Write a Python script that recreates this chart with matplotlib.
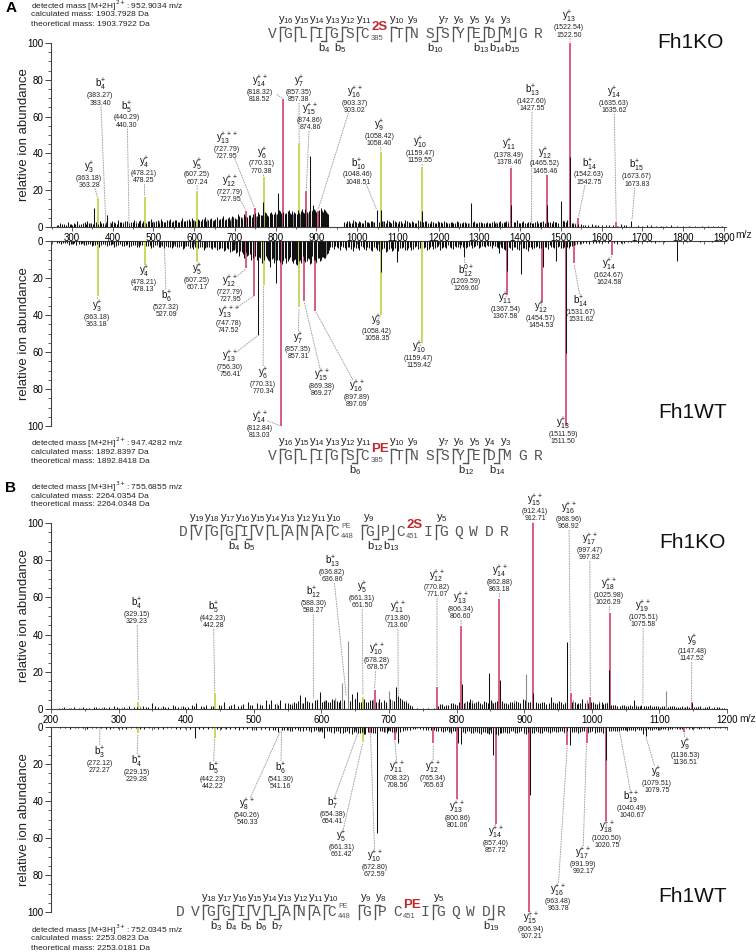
import matplotlib.pyplot as plt
from matplotlib.lines import Line2D
from matplotlib.ticker import MultipleLocator

plt.rcParams['font.family'] = ['Liberation Sans', 'DejaVu Sans']

# ---------------- data ----------------
# annotated fragment peaks: (ion, number, charge, calculated, observed, peak m/z, height, kind)
# kind: 'g' unmodified fragment, 'r' fragment carrying the modified Cys, '' only a label
ko_a_ions = [
    ('y', '3', '+', '363.18', '363.28', 363.28, 15.6, 'g'),
    ('b', '4', '+', '383.27', '383.40', 383.40, 0.0, ''),
    ('b', '5', '+', '440.29', '440.30', 440.30, 0.0, ''),
    ('y', '4', '+', '478.21', '478.25', 478.25, 16.5, 'g'),
    ('y', '5', '+', '607.25', '607.24', 607.24, 19.7, 'g'),
    ('y', '13', '+++', '727.79', '727.95', 748.00, 10.3, 'r'),
    ('y', '12', '++', '727.79', '727.95', 727.95, 8.7, 'r'),
    ('y', '6', '+', '770.31', '770.38', 770.38, 27.0, 'g'),
    ('y', '14', '++', '818.32', '818.52', 818.52, 69.5, 'r'),
    ('y', '7', '+', '857.35', '857.38', 857.38, 45.6, 'g'),
    ('y', '15', '++', '874.86', '874.86', 874.86, 19.5, 'r'),
    ('y', '16', '++', '903.37', '903.02', 903.02, 8.7, 'r'),
    ('b', '10', '+', '1048.46', '1048.51', 1048.51, 9.0, ''),
    ('y', '9', '+', '1058.42', '1058.40', 1058.40, 40.8, 'g'),
    ('y', '10', '+', '1159.47', '1159.55', 1159.55, 32.6, 'g'),
    ('y', '11', '+', '1378.49', '1378.46', 1378.46, 32.0, 'r'),
    ('b', '13', '+', '1427.60', '1427.55', 1427.55, 0.0, ''),
    ('y', '12', '+', '1465.52', '1465.46', 1465.46, 28.3, 'r'),
    ('y', '13', '+', '1522.54', '1522.50', 1522.50, 100.0, 'r'),
    ('b', '14', '+', '1542.63', '1542.75', 1542.75, 4.9, 'r'),
    ('y', '14', '+', '1635.63', '1635.62', 1635.62, 2.5, 'r'),
    ('b', '15', '+', '1673.67', '1673.83', 1673.83, 3.0, ''),
]
wt_a_ions = [
    ('y', '3', '+', '363.18', '363.18', 363.18, 29.7, 'g'),
    ('y', '4', '+', '478.21', '478.13', 478.13, 13.0, 'g'),
    ('b', '6', '+', '527.32', '527.09', 527.09, 4.0, ''),
    ('y', '5', '+', '607.25', '607.17', 607.17, 11.4, 'g'),
    ('y', '12', '++', '727.79', '727.95', 727.95, 14.8, 'r'),
    ('y', '13', '+++', '747.78', '747.52', 747.52, 29.5, 'r'),
    ('y', '13', '++', '756.30', '756.41', 756.41, 51.0, ''),
    ('y', '6', '+', '770.31', '770.34', 770.34, 23.8, 'g'),
    ('y', '14', '++', '812.84', '813.03', 813.03, 100.0, 'r'),
    ('y', '7', '+', '857.35', '857.31', 857.31, 35.7, 'g'),
    ('y', '15', '++', '869.38', '869.27', 869.27, 32.3, 'r'),
    ('y', '16', '++', '897.89', '897.09', 897.09, 37.8, 'r'),
    ('y', '9', '+', '1058.42', '1058.35', 1058.35, 40.0, 'g'),
    ('y', '10', '+', '1159.47', '1159.42', 1159.42, 55.0, 'g'),
    ('b', '12', '0+', '1269.59', '1269.60', 1262.00, 8.5, ''),
    ('y', '11', '+', '1367.54', '1367.58', 1367.58, 29.0, 'r'),
    ('y', '12', '+', '1454.57', '1454.53', 1454.53, 33.0, 'r'),
    ('b', '14', '+', '1531.67', '1531.62', 1531.62, 11.7, 'r'),
    ('y', '14', '+', '1624.67', '1624.58', 1624.58, 7.6, 'r'),
    ('y', '13', '+', '1511.59', '1511.50', 1511.50, 100.0, 'r'),
]
ko_b_ions = [
    ('b', '4', '+', '329.15', '329.23', 329.23, 3.9, 'g'),
    ('b', '5', '+', '442.23', '442.28', 442.28, 8.6, 'g'),
    ('b', '12', '+', '588.30', '588.27', 588.27, 5.0, ''),
    ('b', '13', '+', '636.82', '636.86', 636.86, 6.5, ''),
    ('y', '5', '+', '661.31', '661.50', 661.50, 6.5, 'g'),
    ('y', '10', '++', '678.28', '678.57', 678.57, 10.2, 'r'),
    ('y', '11', '++', '713.80', '713.60', 713.60, 6.5, ''),
    ('y', '12', '++', '770.82', '771.07', 771.07, 11.8, 'r'),
    ('y', '13', '++', '806.34', '806.60', 806.60, 44.6, 'r'),
    ('y', '14', '++', '862.88', '863.18', 863.18, 59.0, 'r'),
    ('y', '15', '++', '912.41', '912.71', 912.71, 100.0, 'r'),
    ('y', '16', '++', '968.96', '968.92', 968.92, 8.6, 'r'),
    ('y', '17', '++', '997.47', '997.82', 997.82, 6.5, 'r'),
    ('y', '18', '++', '1025.98', '1026.29', 1026.29, 51.6, 'r'),
    ('y', '19', '++', '1075.51', '1075.58', 1075.58, 2.0, ''),
    ('y', '9', '+', '1147.48', '1147.52', 1147.52, 3.8, 'r'),
]
wt_b_ions = [
    ('b', '3', '+', '272.12', '272.27', 272.27, 0.0, ''),
    ('b', '4', '+', '229.15', '229.28', 328.70, 3.2, 'g'),
    ('b', '5', '+', '442.23', '442.22', 442.22, 6.0, 'g'),
    ('b', '6', '+', '541.30', '541.16', 541.16, 0.8, ''),
    ('y', '8', '++', '540.26', '540.33', 540.33, 1.5, ''),
    ('b', '7', '+', '654.38', '654.41', 654.41, 2.8, ''),
    ('y', '5', '+', '661.31', '661.42', 661.42, 8.0, 'g'),
    ('y', '10', '++', '672.80', '672.59', 672.59, 3.0, 'r'),
    ('y', '11', '++', '708.32', '708.56', 708.56, 7.0, 'r'),
    ('y', '12', '++', '765.34', '765.63', 765.63, 8.8, 'r'),
    ('y', '13', '++', '800.86', '801.06', 801.06, 39.0, 'r'),
    ('y', '14', '++', '857.40', '857.72', 857.72, 52.5, 'r'),
    ('y', '15', '++', '906.94', '907.21', 907.21, 100.0, 'r'),
    ('y', '16', '++', '963.48', '963.78', 963.78, 9.7, 'r'),
    ('y', '17', '++', '991.99', '992.17', 992.17, 8.5, 'r'),
    ('y', '18', '++', '1020.50', '1020.75', 1020.75, 50.6, 'r'),
    ('b', '19', '++', '1040.49', '1040.67', 1040.67, 1.5, ''),
    ('y', '8', '+', '1079.51', '1079.75', 1079.75, 5.0, ''),
    ('y', '9', '+', '1136.53', '1136.51', 1136.51, 2.5, 'r'),
]

# unassigned peaks (m/z, relative abundance), black and grey
ko_a_black = [
    (262, 1.2), (270, 2.0), (281, 1.5), (290, 2.8), (298, 1.8), (305, 2.2), (312, 3.0), (322, 1.6), (331, 2.5), (338, 3.2),
    (347, 2.0), (355, 10.3), (368, 3.5), (376, 2.4), (387, 6.5), (399, 3.0), (405, 2.2), (414, 3.8), (421, 2.6), (430, 3.3),
    (446, 2.8), (452, 3.6), (461, 2.4), (467, 3.9), (486, 3.0), (493, 4.2), (502, 2.7), (510, 3.6), (518, 4.4), (526, 2.9),
    (533, 3.8), (541, 4.6), (549, 3.1), (556, 4.0), (563, 2.8), (571, 4.8), (578, 3.4), (586, 4.1), (594, 5.0), (612, 3.6),
    (619, 4.4), (627, 5.6), (634, 3.7), (641, 4.9), (649, 3.9), (656, 5.2), (664, 4.3), (671, 6.0), (679, 4.6), (686, 5.4),
    (693, 6.2), (700, 5.0), (707, 6.8), (714, 5.5), (721, 7.2), (738, 6.4), (744, 7.0), (757, 8.0), (763, 6.6), (769, 13.6),
    (776, 7.5), (782, 6.2), (789, 8.4), (795, 7.0), (806, 18.5), (811, 8.8), (826, 7.6), (832, 9.2), (838, 7.0), (845, 8.4),
    (851, 6.8), (864, 9.6), (869, 7.4), (881, 8.8), (885, 38.6), (891, 12.0), (897, 9.0), (910, 10.4), (916, 8.2), (921, 9.4),
    (927, 7.6), (968, 2.8), (975, 3.5), (983, 2.2), (990, 3.8), (997, 2.6), (1004, 3.2), (1011, 2.4), (1019, 3.6), (1026, 2.8),
    (1034, 3.4), (1041, 2.6), (1048, 9.0), (1058, 9.5), (1066, 3.0), (1073, 3.6), (1080, 2.8), (1088, 4.0), (1096, 2.6), (1103, 3.4),
    (1111, 2.4), (1118, 3.8), (1126, 2.6), (1134, 3.2), (1141, 2.4), (1149, 3.6), (1159, 8.7), (1166, 3.0), (1174, 2.4), (1182, 3.4),
    (1190, 2.2), (1197, 3.0), (1205, 2.6), (1213, 3.4), (1221, 2.0), (1229, 2.8), (1236, 2.4), (1244, 3.2), (1252, 2.0), (1260, 2.8),
    (1268, 2.2), (1279, 13.0), (1287, 3.0), (1295, 2.2), (1303, 2.8), (1311, 2.0), (1319, 2.6), (1327, 2.2), (1335, 3.0), (1343, 2.4),
    (1351, 3.2), (1359, 2.6), (1366, 3.4), (1378, 11.8), (1384, 2.8), (1392, 3.6), (1400, 2.4), (1408, 3.0), (1416, 2.2), (1424, 2.8),
    (1432, 2.4), (1440, 3.2), (1448, 2.6), (1456, 3.4), (1465, 12.0), (1473, 2.8), (1481, 3.4), (1489, 2.6), (1500, 14.0), (1508, 3.0),
    (1515, 4.0), (1522, 38.0), (1530, 2.4), (1548, 1.8), (1560, 1.2), (1575, 1.4), (1592, 1.0), (1610, 1.2), (1628, 1.0), (1648, 1.5),
    (1660, 1.3), (1673, 3.0), (1700, 0.8), (1720, 1.0), (1745, 0.8), (1770, 0.9), (1800, 0.7), (1830, 0.8), (1860, 0.6), (1885, 0.7),
    (266, 1.0), (275, 1.4), (286, 0.9), (294, 1.6), (301, 1.1), (308, 1.8), (317, 1.2), (326, 2.0), (334, 1.4), (342, 2.4),
    (351, 1.6), (360, 2.6), (364, 1.8), (372, 2.2), (380, 1.6), (383, 2.6), (395, 2.0), (402, 2.6), (410, 1.8), (418, 2.8),
    (426, 2.0), (434, 3.0), (441, 2.2), (449, 2.8), (456, 2.0), (464, 3.0), (471, 2.4), (475, 3.2), (482, 2.2), (489, 3.4),
    (497, 2.6), (506, 3.0), (514, 2.4), (522, 3.4), (529, 2.6), (537, 3.2), (545, 2.8), (552, 3.6), (560, 2.6), (567, 3.4),
    (575, 3.0), (582, 4.0), (590, 3.2), (598, 3.8), (603, 3.0), (609, 4.2), (616, 3.0), (623, 4.6), (630, 3.4), (638, 4.2),
    (645, 3.2), (652, 4.4), (660, 3.6), (668, 4.8), (675, 3.8), (683, 5.0), (689, 4.0), (696, 5.2), (703, 4.4), (711, 5.8),
    (717, 4.6), (725, 6.0), (729, 5.2), (735, 6.6), (741, 5.6), (748, 7.4), (753, 6.2), (760, 7.0), (766, 6.4), (773, 8.0),
    (779, 6.6), (785, 7.6), (792, 6.8), (799, 8.2), (803, 7.0), (809, 9.0), (814, 7.4), (819, 8.4), (823, 7.0), (829, 8.6),
    (835, 7.4), (841, 8.8), (848, 7.6), (854, 9.4), (858, 7.8), (861, 8.6), (867, 8.0), (872, 9.8), (877, 8.2), (883, 9.2),
    (888, 8.6), (894, 10.0), (900, 8.4), (905, 9.4), (913, 8.8), (918, 9.8), (924, 8.0), (929, 6.8), (972, 2.2), (979, 3.0),
    (987, 2.4), (994, 3.0), (1001, 2.2), (1008, 2.8), (1015, 2.0), (1023, 2.6), (1030, 2.2), (1037, 3.0), (1053, 2.6), (1062, 3.2),
    (1070, 2.4), (1077, 3.0), (1084, 2.2), (1092, 3.0), (1099, 2.4), (1107, 3.2), (1114, 2.2), (1122, 3.0), (1130, 2.4), (1138, 2.8),
    (1145, 2.0), (1153, 3.0), (1162, 2.6), (1170, 3.0), (1178, 2.2), (1186, 2.8), (1194, 2.0), (1201, 2.6), (1209, 2.2), (1217, 2.8),
    (1225, 2.0), (1233, 2.6), (1240, 2.0), (1248, 2.6), (1256, 2.2), (1264, 2.8), (1272, 2.0), (1283, 2.6), (1291, 2.2), (1299, 2.6),
    (1307, 2.0), (1315, 2.4), (1323, 2.0), (1331, 2.6), (1339, 2.2), (1347, 2.8), (1355, 2.2), (1363, 2.8), (1370, 2.4), (1388, 2.6),
    (1396, 2.2), (1404, 2.8), (1412, 2.0), (1420, 2.6), (1428, 2.2), (1436, 2.8), (1444, 2.2), (1452, 2.6), (1460, 2.4), (1469, 2.6),
    (1477, 2.2), (1485, 2.8), (1493, 2.4), (1504, 3.0), (1512, 2.6), (1526, 2.4), (1535, 1.8), (1542, 1.6), (1553, 1.2), (1567, 1.0),
    (1583, 1.2), (1600, 0.9), (1619, 1.1), (1638, 0.8), (1655, 1.0), (1690, 0.7), (1710, 0.9), (1732, 0.7), (1758, 0.8), (1785, 0.6),
    (1815, 0.7), (1845, 0.6), (1872, 0.5), (1895, 0.6),
]
ko_a_grey = [
    (316, 1.8), (343, 2.2), (394, 2.5), (425, 2.8), (457, 3.0), (480, 2.6), (498, 3.4), (514, 3.0), (538, 3.6), (552, 3.2),
    (567, 3.8), (582, 3.3), (600, 4.0), (616, 3.5), (631, 4.2), (645, 3.8), (661, 4.5), (675, 4.0), (690, 4.8), (704, 4.4),
    (718, 5.5), (730, 5.0), (751, 6.0), (772, 6.4), (786, 6.0), (800, 7.2), (816, 6.5), (822, 7.8), (842, 7.0), (856, 8.0),
    (860, 7.2), (873, 9.0), (878, 7.8), (888, 9.5), (903, 8.0), (913, 9.2), (924, 8.8), (979, 2.8), (1008, 2.5), (1038, 2.8),
    (1063, 3.0), (1092, 2.6), (1122, 3.0), (1156, 2.6), (1186, 2.8), (1217, 2.4), (1248, 2.6), (1275, 2.4), (1305, 2.2), (1340, 2.6),
    (1370, 3.0), (1396, 2.4), (1420, 2.6), (1452, 2.8), (1485, 2.6), (1505, 4.0), (1535, 2.0), (1585, 1.0), (1640, 0.8), (1690, 1.0),
    (1750, 0.7),
]
wt_a_black = [
    (262, 1.0), (272, 1.6), (283, 1.2), (293, 2.0), (302, 1.4), (311, 2.4), (321, 1.6), (330, 2.2), (339, 1.8), (348, 2.8),
    (357, 2.0), (367, 3.0), (375, 1.8), (386, 2.6), (395, 2.0), (404, 3.2), (413, 2.2), (422, 2.8), (432, 2.0), (441, 3.0),
    (450, 2.4), (459, 3.4), (468, 2.2), (487, 2.6), (495, 3.6), (504, 2.4), (513, 3.2), (522, 2.6), (527, 4.0), (536, 3.0),
    (545, 3.8), (554, 2.6), (563, 3.4), (572, 4.2), (581, 2.8), (590, 3.6), (598, 4.4), (615, 3.2), (623, 4.8), (632, 3.4),
    (640, 4.0), (648, 3.0), (656, 4.6), (664, 3.6), (672, 5.2), (680, 4.0), (688, 5.8), (695, 4.6), (702, 6.4), (710, 8.0),
    (717, 6.0), (722, 9.0), (733, 7.5), (740, 10.5), (756, 51.0), (762, 9.0), (766, 12.0), (775, 8.0), (781, 10.5), (787, 14.0),
    (793, 9.0), (801, 22.5), (807, 10.0), (815, 12.5), (822, 9.0), (830, 11.0), (836, 8.5), (842, 12.0), (848, 9.5), (853, 13.0),
    (860, 10.0), (866, 8.0), (873, 11.5), (879, 9.0), (884, 12.5), (890, 8.0), (896, 10.0), (903, 9.0), (908, 11.0), (914, 8.6),
    (919, 9.4), (925, 7.2), (930, 5.0), (938, 3.4), (946, 2.6), (953, 3.8), (961, 2.8), (969, 4.0), (977, 3.0), (985, 4.4),
    (993, 3.2), (1001, 3.8), (1009, 2.8), (1017, 4.2), (1025, 3.0), (1033, 4.6), (1041, 3.4), (1049, 5.0), (1058, 16.8), (1066, 4.0),
    (1074, 5.2), (1082, 3.6), (1089, 4.8), (1097, 11.3), (1105, 4.0), (1113, 3.2), (1121, 4.6), (1129, 3.0), (1137, 4.2), (1145, 2.8),
    (1153, 3.6), (1167, 3.0), (1175, 4.4), (1183, 2.6), (1191, 3.8), (1199, 2.8), (1207, 4.0), (1215, 3.0), (1223, 2.4), (1231, 3.6),
    (1239, 2.6), (1247, 3.2), (1255, 2.2), (1262, 8.5), (1270, 3.0), (1278, 2.4), (1286, 3.4), (1294, 2.2), (1302, 3.0), (1310, 2.6),
    (1318, 2.0), (1326, 2.8), (1334, 2.2), (1342, 3.4), (1348, 6.7), (1356, 3.8), (1362, 5.0), (1368, 16.0), (1376, 4.0), (1384, 3.0),
    (1392, 4.4), (1402, 17.8), (1410, 3.6), (1418, 5.2), (1426, 3.0), (1434, 4.0), (1442, 2.6), (1450, 3.6), (1456, 14.0), (1464, 3.0),
    (1472, 2.4), (1480, 3.2), (1489, 10.7), (1496, 2.8), (1504, 3.6), (1512, 60.6), (1519, 4.0), (1527, 2.6), (1540, 1.6), (1555, 1.2),
    (1570, 1.4), (1585, 1.0), (1600, 1.3), (1615, 0.9), (1638, 1.6), (1655, 1.0), (1672, 0.8), (1690, 1.2), (1710, 0.8), (1730, 1.0),
    (1752, 0.7), (1785, 10.8), (1810, 0.8), (1840, 0.6), (1870, 0.7),
    (267, 1.0), (277, 1.3), (288, 0.9), (297, 1.5), (306, 1.0), (316, 1.8), (325, 1.2), (334, 2.0), (343, 1.4), (352, 2.2),
    (362, 1.6), (371, 2.4), (380, 1.5), (390, 2.2), (399, 1.6), (408, 2.6), (418, 1.8), (427, 2.6), (436, 1.8), (445, 2.8),
    (454, 2.0), (464, 3.0), (473, 2.2), (482, 2.8), (491, 2.4), (499, 3.0), (508, 2.2), (517, 3.0), (531, 2.6), (540, 3.4),
    (549, 2.6), (558, 3.2), (567, 2.8), (576, 3.6), (585, 2.6), (594, 3.4), (603, 3.0), (610, 3.8), (619, 3.0), (627, 4.0),
    (636, 3.2), (644, 4.4), (652, 3.4), (660, 4.2), (668, 3.8), (676, 4.6), (684, 4.2), (692, 5.2), (698, 4.8), (706, 6.0),
    (713, 5.6), (719, 7.0), (726, 6.2), (730, 8.0), (737, 7.0), (745, 9.0), (750, 8.0), (753, 10.0), (759, 8.6), (770, 9.4),
    (772, 10.5), (778, 9.0), (784, 11.0), (790, 9.6), (796, 12.0), (804, 10.0), (810, 11.5), (818, 10.0), (826, 12.0), (833, 9.5),
    (839, 11.0), (845, 10.0), (850, 12.5), (856, 11.0), (863, 12.0), (869, 10.0), (876, 11.0), (882, 9.5), (887, 12.0), (893, 10.0),
    (899, 11.5), (905, 9.0), (911, 10.5), (917, 8.5), (922, 9.0), (928, 6.5), (934, 3.0), (942, 4.2), (950, 3.0), (957, 4.6),
    (965, 3.2), (973, 4.8), (981, 3.4), (989, 5.2), (997, 3.6), (1005, 4.6), (1013, 3.4), (1021, 5.0), (1029, 3.6), (1037, 5.4),
    (1045, 3.8), (1053, 5.6), (1062, 4.2), (1070, 6.0), (1078, 4.4), (1086, 5.2), (1093, 4.0), (1101, 5.6), (1109, 3.8), (1117, 5.0),
    (1125, 3.6), (1133, 4.6), (1141, 3.4), (1149, 4.2), (1163, 3.6), (1171, 4.8), (1179, 3.4), (1187, 4.4), (1195, 3.2), (1203, 4.6),
    (1211, 3.4), (1219, 4.0), (1227, 3.0), (1235, 4.2), (1243, 3.0), (1251, 3.8), (1259, 3.0), (1266, 3.6), (1274, 2.8), (1282, 3.8),
    (1290, 2.8), (1298, 3.6), (1306, 2.6), (1314, 3.4), (1322, 2.6), (1330, 3.6), (1338, 2.8), (1345, 4.0), (1352, 3.2), (1359, 4.4),
    (1372, 3.4), (1380, 4.6), (1388, 3.2), (1396, 4.8), (1406, 3.6), (1414, 4.4), (1422, 3.2), (1430, 4.2), (1438, 3.0), (1446, 4.0),
    (1460, 3.4), (1468, 4.2), (1476, 3.0), (1484, 3.8), (1492, 3.0), (1500, 3.6), (1508, 3.0), (1516, 3.4), (1523, 2.8), (1533, 2.0),
    (1547, 1.4), (1562, 1.2), (1578, 1.0), (1593, 1.2), (1608, 0.8), (1630, 1.0), (1648, 0.9), (1665, 0.7), (1700, 0.8), (1720, 0.6),
]
wt_a_grey = [
    (299, 1.0), (326, 1.4), (352, 1.8), (380, 2.0), (409, 2.2), (436, 2.4), (463, 2.0), (491, 2.8), (518, 2.4), (549, 3.0),
    (577, 2.6), (604, 3.2), (628, 3.0), (652, 3.6), (676, 3.4), (699, 4.2), (713, 5.0), (726, 6.5), (748, 8.0), (770, 9.0),
    (797, 10.0), (819, 11.0), (840, 10.0), (857, 12.0), (870, 11.0), (887, 10.0), (899, 12.0), (912, 9.0), (923, 8.0), (957, 2.6),
    (989, 3.0), (1021, 2.8), (1054, 3.2), (1085, 3.0), (1117, 2.8), (1149, 3.0), (1179, 2.6), (1211, 2.8), (1243, 2.4), (1274, 2.6),
    (1306, 2.4), (1338, 2.8), (1372, 3.0), (1406, 2.6), (1438, 2.8), (1468, 2.6), (1500, 3.0), (1534, 2.0), (1578, 1.0), (1625, 0.8),
    (1680, 0.7), (1740, 0.8),
]
ko_b_black = [
    (212, 0.6), (219, 0.9), (226, 0.5), (234, 1.0), (241, 0.7), (248, 1.2), (256, 0.8), (263, 1.1), (271, 0.6), (278, 1.3),
    (286, 0.9), (293, 1.4), (301, 0.8), (308, 1.2), (315, 1.6), (323, 1.0), (336, 1.4), (343, 0.9), (350, 3.0), (358, 1.2),
    (365, 1.6), (373, 1.0), (380, 2.4), (388, 1.3), (395, 1.8), (402, 1.1), (408, 2.0), (415, 3.0), (422, 1.5), (430, 2.2),
    (436, 1.4), (448, 2.0), (456, 4.0), (463, 1.8), (470, 2.6), (477, 1.6), (484, 2.8), (491, 3.8), (498, 2.0), (505, 3.0),
    (512, 2.2), (518, 5.0), (525, 5.0), (532, 2.8), (539, 5.0), (546, 3.2), (553, 2.6), (560, 3.6), (566, 4.4), (569, 7.5),
    (576, 6.5), (582, 3.8), (590, 4.6), (598, 9.0), (604, 4.2), (610, 3.6), (616, 5.4), (623, 4.4), (628, 5.0), (646, 8.0),
    (653, 9.0), (658, 4.0), (666, 3.6), (672, 4.8), (688, 3.8), (692, 4.6), (711, 11.8), (716, 6.0), (722, 4.4), (728, 3.0),
    (734, 1.6), (742, 0.6), (750, 0.4), (758, 0.5), (766, 0.8), (775, 2.6), (781, 1.8), (788, 2.4), (795, 3.0), (801, 2.2),
    (808, 13.4), (815, 4.4), (820, 5.6), (826, 3.0), (832, 4.2), (838, 2.6), (843, 3.6), (848, 19.4), (854, 3.0), (860, 4.4),
    (864, 15.6), (870, 3.4), (876, 2.6), (882, 3.8), (888, 4.4), (894, 3.0), (898, 5.2), (906, 3.6), (913, 8.6), (920, 3.0),
    (926, 4.0), (932, 2.6), (940, 6.6), (946, 3.0), (952, 4.4), (957, 2.8), (963, 36.0), (975, 3.8), (980, 3.0), (985, 5.5),
    (990, 3.2), (1002, 3.6), (1008, 2.6), (1015, 4.0), (1020, 3.4), (1026, 21.0), (1032, 2.4), (1038, 1.8), (1044, 2.2), (1050, 1.6),
    (1056, 2.0), (1062, 5.0), (1068, 1.8), (1073, 2.4), (1080, 1.6), (1086, 2.0), (1092, 1.4), (1098, 1.8), (1104, 1.6), (1116, 1.4),
    (1122, 1.8), (1128, 1.2), (1134, 1.6), (1141, 1.4), (1148, 3.0), (1154, 1.2), (1160, 1.8), (1167, 1.0), (1174, 1.4), (1181, 0.9),
    (1188, 1.2), (1195, 0.8),
    (216, 0.4), (230, 0.7), (252, 0.6), (267, 0.9), (282, 0.7), (297, 1.0), (312, 0.8), (327, 1.2), (340, 0.9), (354, 1.4),
    (369, 1.0), (384, 1.6), (398, 1.2), (412, 1.6), (426, 1.2), (440, 1.8), (452, 1.4), (467, 2.2), (481, 1.8), (495, 2.4),
    (509, 2.0), (522, 2.6), (536, 2.2), (550, 3.0), (557, 2.4), (563, 3.4), (573, 3.0), (579, 4.2), (586, 3.4), (594, 4.8),
    (601, 3.6), (607, 4.8), (613, 3.8), (619, 5.0), (626, 3.6), (633, 4.6), (642, 4.2), (649, 5.4), (656, 4.0), (663, 5.2),
    (669, 3.8), (675, 4.6), (681, 3.8), (685, 5.6), (696, 4.0), (702, 5.2), (707, 4.4), (713, 7.0), (719, 4.8), (725, 3.8),
    (731, 2.4), (772, 1.8), (778, 2.8), (785, 2.0), (791, 3.2), (798, 2.6), (804, 3.6), (811, 3.0), (818, 4.0), (823, 3.4),
    (829, 3.8), (835, 3.0), (841, 4.2), (846, 3.4), (851, 4.6), (857, 3.6), (867, 4.2), (873, 3.2), (879, 4.0), (885, 3.0),
    (891, 3.8), (901, 4.6), (909, 3.6), (917, 4.0), (923, 3.2), (929, 3.8), (936, 3.0), (943, 3.6), (949, 3.2), (955, 3.8),
    (960, 3.0), (971, 3.6), (978, 2.8), (983, 3.4), (994, 3.0), (999, 3.6), (1005, 2.8), (1011, 3.4), (1017, 2.6), (1023, 3.2),
    (1029, 2.4), (1035, 2.0), (1041, 1.8), (1047, 2.0), (1053, 1.6), (1059, 1.8), (1065, 1.4), (1071, 1.8), (1077, 1.4), (1083, 1.6),
    (1089, 1.2), (1095, 1.6), (1101, 1.2), (1107, 1.4), (1113, 1.2), (1119, 1.4), (1125, 1.0), (1131, 1.2), (1138, 1.0), (1144, 1.2),
    (1151, 0.9), (1157, 1.1), (1164, 0.8), (1171, 1.0), (1178, 0.8), (1185, 0.9), (1192, 0.6),
]
ko_b_grey = [
    (245, 0.8), (275, 1.0), (305, 1.0), (332, 1.4), (362, 1.2), (392, 1.6), (425, 1.4), (452, 2.0), (481, 2.2), (509, 2.6),
    (535, 3.0), (556, 3.4), (572, 3.0), (586, 4.0), (594, 5.5), (606, 4.6), (620, 6.0), (631, 14.0), (639, 36.5), (650, 6.0),
    (662, 4.4), (677, 5.2), (684, 4.0), (700, 9.6), (705, 4.6), (719, 5.2), (725, 5.0), (778, 2.4), (792, 2.0), (812, 4.0),
    (823, 5.0), (829, 3.4), (852, 3.6), (867, 4.0), (879, 3.2), (885, 5.0), (902, 19.0), (909, 4.0), (918, 3.4), (936, 2.8),
    (949, 3.2), (960, 3.6), (972, 4.6), (993, 4.6), (998, 6.0), (1005, 3.0), (1011, 4.4), (1023, 4.0), (1035, 2.0), (1047, 1.8),
    (1065, 2.0), (1077, 1.6), (1089, 1.6), (1110, 9.7), (1119, 1.4), (1137, 1.2), (1157, 1.4), (1170, 1.2), (1185, 1.0),
]
wt_b_black = [
    (214, 0.6), (228, 0.9), (240, 0.5), (253, 1.0), (266, 0.7), (281, 1.2), (292, 0.8), (305, 1.0), (318, 0.6), (331, 1.1),
    (345, 0.7), (358, 1.2), (371, 0.8), (385, 1.0), (398, 0.7), (413, 6.0), (425, 1.0), (438, 0.8), (452, 1.2), (465, 0.9),
    (478, 1.4), (490, 1.0), (503, 1.6), (516, 1.1), (528, 1.8), (536, 2.5), (545, 1.4), (553, 2.0), (561, 1.2), (569, 2.4),
    (577, 1.6), (585, 2.8), (592, 1.8), (598, 2.4), (604, 5.7), (611, 2.0), (618, 3.0), (625, 2.2), (632, 3.4), (638, 2.4),
    (645, 3.6), (651, 2.6), (657, 3.2), (665, 4.0), (669, 2.8), (676, 3.0), (682, 57.5), (690, 2.4), (697, 3.0), (702, 2.2),
    (707, 2.8), (714, 8.5), (720, 2.0), (727, 1.6), (735, 1.2), (742, 0.8), (750, 1.0), (758, 1.4), (766, 1.8), (773, 2.2),
    (780, 2.6), (786, 1.8), (792, 3.0), (798, 2.0), (802, 8.5), (806, 9.0), (812, 3.0), (818, 2.2), (824, 3.4), (830, 2.6),
    (836, 3.6), (842, 2.8), (848, 4.0), (854, 15.0), (861, 4.4), (866, 3.0), (872, 2.6), (878, 3.4), (884, 2.4), (890, 3.0),
    (896, 2.4), (902, 3.6), (908, 36.8), (914, 3.2), (920, 2.6), (926, 3.4), (932, 2.4), (938, 3.0), (944, 2.2), (950, 2.8),
    (956, 2.4), (968, 9.7), (974, 2.6), (980, 3.2), (986, 2.4), (998, 2.8), (1004, 3.4), (1010, 2.6), (1016, 3.0), (1021, 17.8),
    (1028, 2.4), (1034, 2.0), (1040, 2.4), (1046, 1.8), (1052, 2.2), (1058, 1.6), (1064, 2.0), (1070, 1.4), (1076, 4.0), (1080, 5.0),
    (1086, 1.6), (1092, 1.2), (1098, 1.6), (1105, 1.0), (1112, 1.4), (1119, 1.0), (1126, 1.2), (1133, 0.9), (1144, 1.2), (1151, 0.8),
    (1158, 1.0), (1166, 0.7), (1174, 0.9), (1182, 0.6), (1190, 0.8), (1197, 0.5),
    (221, 0.4), (235, 0.7), (247, 0.5), (260, 0.8), (274, 0.6), (287, 0.9), (299, 0.6), (311, 0.9), (325, 0.7), (338, 1.0),
    (352, 0.8), (365, 1.1), (378, 0.8), (391, 1.0), (405, 0.9), (419, 1.2), (432, 0.9), (445, 1.2), (459, 1.0), (472, 1.3),
    (484, 1.0), (497, 1.4), (510, 1.2), (522, 1.6), (532, 1.4), (541, 1.8), (549, 1.4), (557, 2.0), (565, 1.6), (573, 2.2),
    (581, 1.8), (589, 2.4), (595, 2.0), (601, 2.6), (608, 2.2), (614, 2.8), (621, 2.4), (628, 3.0), (635, 2.6), (641, 3.2),
    (648, 2.6), (654, 3.4), (660, 2.8), (663, 3.6), (673, 2.6), (679, 3.2), (686, 2.4), (693, 2.8), (699, 2.0), (704, 2.6),
    (711, 2.2), (717, 2.6), (723, 1.8), (731, 1.4), (738, 1.0), (746, 1.2), (754, 1.4), (762, 1.6), (770, 2.0), (777, 2.4),
    (783, 2.0), (789, 2.6), (795, 2.2), (809, 2.6), (815, 2.2), (821, 3.0), (827, 2.4), (833, 3.2), (839, 2.6), (845, 3.4),
    (851, 3.0), (858, 3.8), (864, 3.0), (869, 2.6), (875, 3.0), (881, 2.4), (887, 3.0), (893, 2.6), (899, 3.2), (905, 2.6),
    (911, 3.0), (917, 2.4), (923, 3.0), (929, 2.4), (935, 2.8), (941, 2.2), (947, 2.6), (953, 2.2), (959, 2.6), (964, 2.2),
    (971, 2.6), (977, 2.4), (983, 2.8), (989, 2.2), (995, 2.6), (1001, 2.4), (1007, 2.8), (1013, 2.2), (1025, 2.2), (1031, 1.8),
    (1037, 2.0), (1043, 1.6), (1049, 1.8), (1055, 1.4), (1061, 1.6), (1067, 1.2), (1073, 1.4), (1083, 1.2), (1089, 1.4), (1095, 1.0),
    (1102, 1.2), (1109, 0.9), (1116, 1.1), (1123, 0.8), (1130, 1.0), (1140, 0.8), (1148, 0.9), (1155, 0.7), (1162, 0.8), (1170, 0.6),
]
wt_b_grey = [
    (247, 0.6), (299, 0.8), (352, 0.9), (405, 1.0), (458, 1.2), (510, 1.4), (557, 1.8), (581, 2.2), (596, 2.6), (614, 2.8),
    (628, 2.6), (641, 3.0), (654, 2.8), (661, 3.2), (673, 3.4), (694, 2.6), (710, 3.0), (731, 1.4), (762, 1.2), (790, 2.2),
    (809, 2.4), (827, 2.8), (846, 3.0), (857, 4.0), (869, 3.2), (887, 2.8), (905, 3.4), (923, 3.0), (941, 2.6), (959, 3.0),
    (977, 2.8), (995, 3.0), (1013, 2.8), (1031, 2.2), (1055, 1.8), (1079, 1.6), (1101, 1.4), (1129, 1.2), (1162, 0.9), (1186, 0.7),
]

# label placement (m/z, abundance) of each ion name, same order as the ion lists
ko_a_label_xy = [(342, 32), (369, 77), (435, 65), (477, 35), (607, 34), (680, 48), (688, 24.5), (766, 40),
                 (761, 79), (857, 79), (884, 63.6), (994, 73), (1002, 34), (1054, 55), (1154, 45.7), (1372, 44.6),
                 (1429, 74), (1461, 40), (1520, 114), (1569, 34), (1630, 73), (1686, 33)]
wt_a_label_xy = [(361, 35.7), (477, 16.8), (531, 30.3), (607, 15.7), (688, 22.2), (685, 38.9), (688, 62.7),
                 (769, 71.9), (761, 95.7), (855, 53), (913, 73), (999, 78.9), (1048, 43.2), (1151, 57.8),
                 (1267, 16.2), (1363, 31.4), (1451, 36.2), (1549, 33), (1618, 13), (1505, 98.9)]
ko_b_label_xy = [(327, 56.5), (440, 54.3), (588, 62.4), (616, 79), (660, 65), (682, 31.7), (713, 54.3),
                 (771, 71), (806, 59.1), (864, 73.7), (916, 111.8), (966, 107.5), (997, 90.9), (1025, 66.7),
                 (1076, 54.8), (1148, 36.6)]
wt_b_label_xy = [(272, 14), (327, 18.9), (440, 22.7), (540, 22.7), (490, 42.2), (616, 41.6), (630, 59.5),
                 (679, 70.3), (712, 22.2), (765, 22.2), (801, 43.8), (858, 57.3), (910, 103.8), (950, 88.6),
                 (987, 68.6), (1022, 54.6), (1059, 38.4), (1096, 24.9), (1138, 9.7)]

seq_a = 'VGLIGSCTNSSYEDMGR'
seq_b = 'DVGGIVLANACGPCIGQWDR'
ko_a_y = [16, 15, 14, 13, 12, 11, 10, 9, 7, 6, 5, 4, 3]
ko_a_b = [4, 5, 10, 13, 14, 15]
wt_a_y = [16, 15, 14, 13, 12, 11, 10, 9, 7, 6, 5, 4, 3]
wt_a_b = [6, 12, 14]
ko_b_y = [19, 18, 17, 16, 15, 14, 13, 12, 11, 10, 9, 5]
ko_b_b = [4, 5, 12, 13]
wt_b_y = [18, 17, 16, 15, 14, 13, 12, 11, 10, 9, 8, 5]
wt_b_b = [3, 4, 5, 6, 7, 19]

mass_ko_a = ['detected mass [M+2H]$^{2+}$: 952.9034 m/z', 'calculated mass: 1903.7928 Da', 'theoretical mass: 1903.7922 Da']
mass_wt_a = ['detected mass [M+2H]$^{2+}$: 947.4282 m/z', 'calculated mass: 1892.8397 Da', 'theoretical mass: 1892.8418 Da']
mass_ko_b = ['detected mass [M+3H]$^{3+}$: 755.6855 m/z', 'calculated mass: 2264.0354 Da', 'theoretical mass: 2264.0348 Da']
mass_wt_b = ['detected mass [M+3H]$^{3+}$: 752.0345 m/z', 'calculated mass: 2253.0823 Da', 'theoretical mass: 2253.0181 Da']

# ---------------- drawing ----------------
W, H = 756, 952
GREEN = '#bccd33'
RED = '#d0305a'
fig = plt.figure(figsize=(W / 100, H / 100), dpi=100)


def fx(px):
    return px / W


def fy(py):
    return 1 - py / H


def make_ax(left, top, right, bottom):
    return fig.add_axes([fx(left), fy(bottom), fx(right) - fx(left), fy(top) - fy(bottom)])


def style(ax, xlim, upper):
    ax.set_xlim(*xlim)
    if upper:
        ax.set_ylim(0, 100)
        base, hide = 'bottom', 'top'
    else:
        ax.set_ylim(100, 0)
        base, hide = 'top', 'bottom'
    ax.spines['right'].set_visible(False)
    ax.spines[hide].set_visible(False)
    for s in ('left', base):
        ax.spines[s].set_color('#444')
        ax.spines[s].set_linewidth(0.8)
    ax.yaxis.set_major_locator(MultipleLocator(20))
    ax.yaxis.set_minor_locator(MultipleLocator(5))
    ax.xaxis.set_major_locator(MultipleLocator(100))
    ax.xaxis.set_minor_locator(MultipleLocator(50))
    ax.tick_params(axis='y', which='major', length=4, width=0.7, labelsize=7, pad=1.5, color='#444')
    ax.tick_params(axis='y', which='minor', length=2, width=0.6, color='#444')
    if upper:
        ax.tick_params(axis='x', which='major', direction='out', length=3, width=0.6,
                       labelsize=7, pad=1, color='#444')
        ax.tick_params(axis='x', which='minor', direction='out', length=1.5, width=0.6, color='#444')
    else:
        ax.xaxis.tick_top()
        ax.tick_params(axis='x', which='both', direction='in', length=2.5, width=0.6,
                       labeltop=False, color='#444')
    ax.set_ylabel('relative ion abundance', fontsize=9.5, color='#222')
    ax.yaxis.set_label_coords(-0.031, 0.5)
    ax.patch.set_alpha(0)


def draw_spectrum(ax, ions, black, grey, label_xy, upper):
    ax.vlines([p[0] for p in grey], 0, [p[1] for p in grey], colors='#8c8c8c', lw=0.8, zorder=1)
    for ion in ions:
        if ion[7]:
            ax.vlines(ion[5], 0, ion[6], colors=GREEN if ion[7] == 'g' else RED, lw=1.1, zorder=2)
    ax.vlines([p[0] for p in black], 0, [p[1] for p in black], colors='#111111', lw=0.75, zorder=3)
    for (kind, num, chg, calc, obs, pmz, ph, _), (lx, ly) in zip(ions, label_xy):
        name = r'$\mathregular{%s_{%s}^{%s}}$' % (kind, num, chg)
        ax.annotate(name, (lx, ly), ha='center', va='center', fontsize=7, color='#111',
                    annotation_clip=False)
        ax.annotate('(%s)' % calc, (lx, ly), xytext=(0, -7.5), textcoords='offset points',
                    ha='center', va='center', fontsize=5, color='#222', annotation_clip=False)
        ax.annotate(obs, (lx, ly), xytext=(0, -12.8), textcoords='offset points',
                    ha='center', va='center', fontsize=5, color='#222', annotation_clip=False)
        ax.annotate('', xy=(pmz, ph), xytext=(lx, ly), annotation_clip=False,
                    arrowprops=dict(arrowstyle='-', linestyle=(0, (1, 1.6)), color='#a0a0a0',
                                    lw=0.7, shrinkA=15.5 if upper else 6, shrinkB=1))


def draw_seq(seq, x0, ymid, dx, gaps, y_ions, b_ions, mods):
    xs = []
    x = x0
    for i in range(len(seq)):
        x += gaps.get(i, 0)
        xs.append(x)
        x += dx
    for r, xr in zip(seq, xs):
        fig.text(fx(xr), fy(ymid), r, ha='center', va='center', family='Liberation Mono',
                 fontsize=10.5, color='#555')
    n = len(seq)
    cuts = {}
    for y in y_ions:
        cuts.setdefault(n - y, []).append(('y', y))
    for b in b_ions:
        cuts.setdefault(b, []).append(('b', b))
    for k, kinds in cuts.items():
        bx = xs[k] - dx / 2
        fig.add_artist(Line2D([fx(bx), fx(bx)], [fy(ymid - 7), fy(ymid + 7)], color='#555', lw=1.0))
        for kind, num in kinds:
            if kind == 'y':
                fig.add_artist(Line2D([fx(bx), fx(bx + 5)], [fy(ymid - 7), fy(ymid - 7)], color='#555', lw=1.0))
                fig.text(fx(bx + 6.5), fy(ymid - 14), r'$\mathregular{y_{%d}}$' % num, ha='center',
                         va='center', fontsize=8, color='#222')
            else:
                fig.add_artist(Line2D([fx(bx - 5), fx(bx)], [fy(ymid + 7), fy(ymid + 7)], color='#555', lw=1.0))
                fig.text(fx(bx - 2), fy(ymid + 14.5), r'$\mathregular{b_{%d}}$' % num, ha='center',
                         va='center', fontsize=8, color='#222')
    for idx, site, mod, major in mods:
        fig.text(fx(xs[idx] + 12), fy(ymid + 4.5), site, ha='center', va='center', fontsize=5.5, color='#555')
        if major:
            fig.text(fx(xs[idx] + 14.5), fy(ymid - 6.5), mod, ha='center', va='center', fontsize=9.5,
                     fontweight='bold', color='#c0272d')
        else:
            fig.text(fx(xs[idx] + 11), fy(ymid - 5.5), mod, ha='center', va='center', fontsize=5, color='#555')


def mass_text(lines, ytop):
    for i, t in enumerate(lines):
        fig.text(fx(31), fy(ytop + 9 * i), t, ha='left', va='center', fontsize=6, color='#222')


ax_a1 = make_ax(51, 43, 726, 227)
ax_a2 = make_ax(51, 241, 726, 426)
ax_b1 = make_ax(51, 523, 727, 709)
ax_b2 = make_ax(51, 727, 727, 912)

xlim_a = (248.5, 1905)
xlim_b = (200, 1200)
style(ax_a1, xlim_a, True)
style(ax_a2, xlim_a, False)
style(ax_b1, xlim_b, True)
style(ax_b2, xlim_b, False)

draw_spectrum(ax_a1, ko_a_ions, ko_a_black, ko_a_grey, ko_a_label_xy, True)
draw_spectrum(ax_a2, wt_a_ions, wt_a_black, wt_a_grey, wt_a_label_xy, False)
draw_spectrum(ax_b1, ko_b_ions, ko_b_black, ko_b_grey, ko_b_label_xy, True)
draw_spectrum(ax_b2, wt_b_ions, wt_b_black, wt_b_grey, wt_b_label_xy, False)

draw_seq(seq_a, 272, 34, 15.5, {7: 18}, ko_a_y, ko_a_b, [(6, '385', '2S', True)])
draw_seq(seq_a, 272, 456, 15.5, {7: 18}, wt_a_y, wt_a_b, [(6, '385', 'PE', True)])
draw_seq(seq_b, 183, 532, 15.2, {11: 19.8, 14: 12.4}, ko_b_y, ko_b_b,
         [(10, '448', 'PE', False), (13, '451', '2S', True)])
draw_seq(seq_b, 180, 912, 15.2, {11: 19.8, 14: 12.4}, wt_b_y, wt_b_b,
         [(10, '448', 'PE', False), (13, '451', 'PE', True)])

mass_text(mass_ko_a, 6)
mass_text(mass_wt_a, 443)
mass_text(mass_ko_b, 487)
mass_text(mass_wt_b, 930)

for txt, x, y in [('Fh1KO', 690, 42), ('Fh1WT', 693, 413), ('Fh1KO', 692, 542), ('Fh1WT', 693, 897)]:
    fig.text(fx(x), fy(y), txt, ha='center', va='center', fontsize=15, color='#111')
fig.text(fx(744), fy(235), 'm/z', ha='center', va='center', fontsize=7.5, color='#222')
fig.text(fx(748), fy(719), 'm/z', ha='center', va='center', fontsize=7.5, color='#222')
fig.text(fx(11), fy(8), 'A', ha='center', va='center', fontsize=11, fontweight='bold')
fig.text(fx(11), fy(488), 'B', ha='center', va='center', fontsize=11, fontweight='bold')

fig.savefig('out.png', dpi=100)
